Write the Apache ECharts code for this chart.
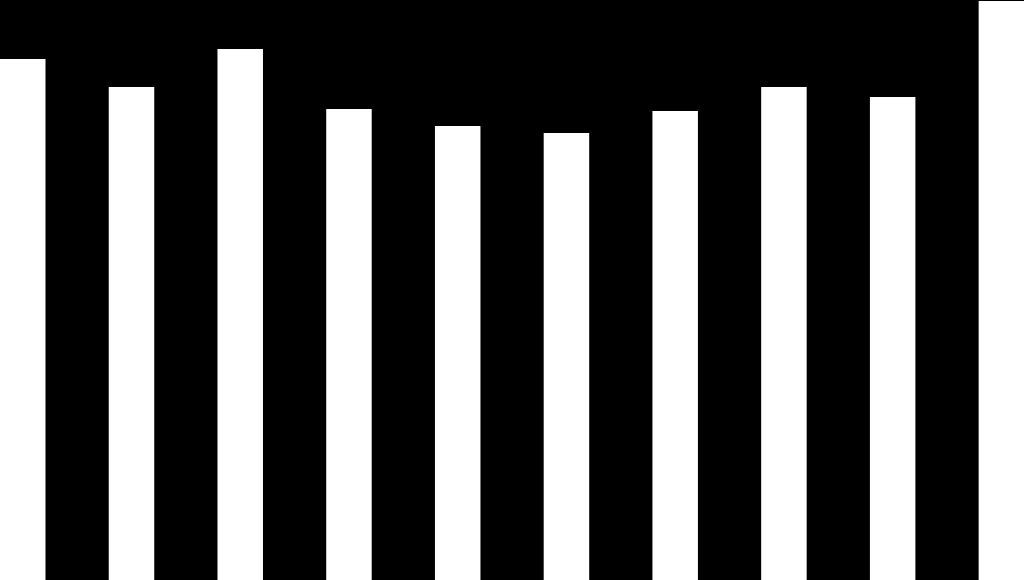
<!DOCTYPE html>
<html>
<head>
<meta charset="utf-8">
<script src="https://cdn.jsdelivr.net/npm/echarts@6/dist/echarts.min.js"></script>
<style>
html,body{margin:0;padding:0;background:#000;}
#chart{width:1024px;height:580px;}
</style>
</head>
<body>
<div id="chart"></div>
<script>
const categories = ['1','2','3','4','5','6','7','8','9','10'];
const values = [521, 493, 531, 471, 454, 447, 469, 493, 483, 579];

const chart = echarts.init(document.getElementById('chart'));
chart.setOption({
  backgroundColor: '#000000',
  animation: false,
  grid: { left: 22.75, right: 22.6, top: 0, bottom: 0, containLabel: false },
  xAxis: {
    type: 'category',
    data: categories,
    boundaryGap: false,
    show: false
  },
  yAxis: {
    type: 'value',
    min: 0,
    max: 580,
    show: false
  },
  series: [{
    type: 'bar',
    data: values,
    barWidth: 45.5,
    clip: false,
    itemStyle: { color: '#ffffff' }
  }]
});
</script>
</body>
</html>
